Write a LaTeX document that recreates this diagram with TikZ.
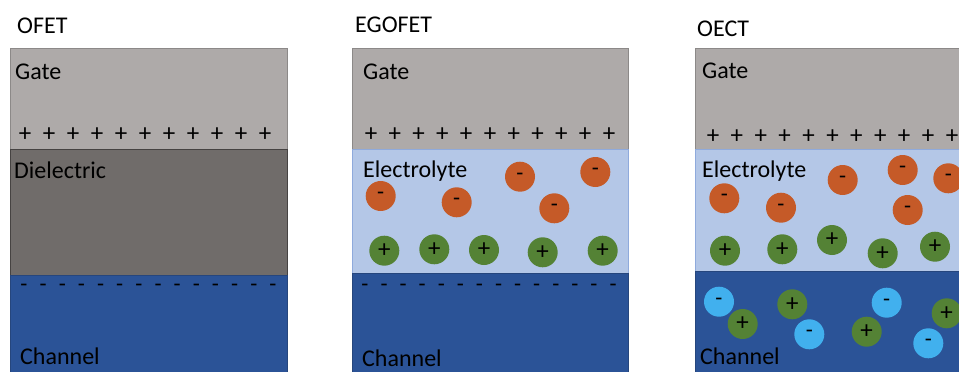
\documentclass[tikz,border=0pt]{standalone}
\usepackage{fontspec}
\setmainfont{Carlito}
\definecolor{gatecol}{RGB}{174,170,169}
\definecolor{gateline}{RGB}{140,137,136}
\definecolor{dielcol}{RGB}{112,108,106}
\definecolor{dielline}{RGB}{70,67,66}
\definecolor{chancol}{RGB}{43,83,151}
\definecolor{chanline}{RGB}{38,70,125}
\definecolor{elytecol}{RGB}{180,199,231}
\definecolor{elyteline}{RGB}{143,170,220}
\definecolor{anioncol}{RGB}{197,90,40}
\definecolor{cationcol}{RGB}{84,130,53}
\definecolor{cyancol}{RGB}{65,176,238}
\begin{document}
\begin{tikzpicture}[x=1pt,y=-1pt,
  lbl/.style={inner sep=0pt,anchor=base west,font=\fontsize{24}{28}\selectfont,text=black},
  psgn/.style={inner sep=0pt,font=\fontsize{25}{28}\selectfont,text=black},
  msgn/.style={inner sep=0pt,font=\fontsize{23}{26}\selectfont,text=black},
  ion/.style={circle,minimum size=30pt,inner sep=0pt,text=black},
  anion/.style={ion,fill=anioncol,font=\fontsize{23}{26}\selectfont},
  cation/.style={ion,fill=cationcol,font=\fontsize{25}{28}\selectfont},
  cyanion/.style={ion,fill=cyancol,font=\fontsize{23}{26}\selectfont},
  gatelayer/.style={fill=gatecol,draw=gateline,line width=0.8pt},
  diellayer/.style={fill=dielcol,draw=dielline,line width=0.8pt},
  elytelayer/.style={fill=elytecol,draw=elyteline,line width=0.8pt},
  chanlayer/.style={fill=chancol,draw=chanline,line width=0.8pt}]
\useasboundingbox (0,0) rectangle (959,372);
\clip (0,0) rectangle (959,372);
% ---------- OFET ----------
\path[gatelayer] (10,48) rectangle (287,149);
\path[diellayer] (10,149) rectangle (287,275);
\path[chanlayer] (10,275) rectangle (287,380);
\node[lbl] (t1) at (17,33) {OFET};
\node[lbl] (g1) at (15,79) {Gate};
\node[lbl] (d1) at (14,178) {Dielectric};
\node[lbl] (c1) at (20,364) {Channel};
\foreach \i in {0,...,10} \node[psgn] (pa\i) at (25+24*\i,135) {+};
\foreach \i in {0,...,13} \node[msgn] (ma\i) at (24+19.15*\i,288) {-};
% ---------- EGOFET ----------
\path[gatelayer] (352,48) rectangle (628,149);
\path[elytelayer] (352,149) rectangle (628,273);
\path[chanlayer] (352,273) rectangle (628,380);
\node[lbl] (t2) at (355,32) {EGOFET};
\node[lbl] (g2) at (363,79) {Gate};
\node[lbl] (e2) at (363,177) {Electrolyte};
\node[lbl] (c2) at (362,366) {Channel};
\foreach \i in {0,...,10} \node[psgn] (pb\i) at (371+23.8*\i,135) {+};
\foreach \i in {0,...,13} \node[msgn] (mb\i) at (365+19.08*\i,288) {-};
\node[anion] (b1) at (380.7,196) {-};
\node[anion] (b2) at (456.7,202.3) {-};
\node[anion] (b3) at (520,176.7) {-};
\node[anion] (b4) at (554.3,208.3) {-};
\node[anion] (b5) at (595.3,172) {-};
\node[cation] (k1) at (384.3,250.7) {+};
\node[cation] (k2) at (434.3,249.3) {+};
\node[cation] (k3) at (484,250) {+};
\node[cation] (k4) at (542.7,252.3) {+};
\node[cation] (k5) at (602.7,250.7) {+};
% ---------- OECT ----------
\path[gatelayer] (695,48) rectangle (990,149);
\path[elytelayer] (695,149) rectangle (990,271);
\path[chanlayer] (695,271) rectangle (990,380);
\node[lbl] (t3) at (697,36) {OECT};
\node[lbl] (g3) at (702,78) {Gate};
\node[lbl] (e3) at (702,177) {Electrolyte};
\node[lbl] (c3) at (700,364) {Channel};
\foreach \i in {0,...,10} \node[psgn] (pc\i) at (713+23.9*\i,137) {+};
\node[anion] (o1) at (724.3,198.3) {-};
\node[anion] (o2) at (781,207.7) {-};
\node[anion] (o3) at (842.7,180) {-};
\node[anion] (o4) at (902.7,170) {-};
\node[anion] (o5) at (907.7,210) {-};
\node[anion] (o6) at (948.3,178.3) {-};
\node[cation] (q1) at (725,250.7) {+};
\node[cation] (q2) at (782.3,249.3) {+};
\node[cation] (q3) at (832,240) {+};
\node[cation] (q4) at (882.7,253.3) {+};
\node[cation] (q5) at (935,246.7) {+};
\node[cyanion] (y1) at (719,301.7) {-};
\node[cyanion] (y2) at (809.3,334.3) {-};
\node[cyanion] (y3) at (886.7,302.7) {-};
\node[cyanion] (y4) at (928.3,343.3) {-};
\node[cation] (h1) at (742.7,324) {+};
\node[cation] (h2) at (792.3,304.3) {+};
\node[cation] (h3) at (866.7,331.7) {+};
\node[cation] (h4) at (946.7,313.3) {+};
\end{tikzpicture}
\end{document}
